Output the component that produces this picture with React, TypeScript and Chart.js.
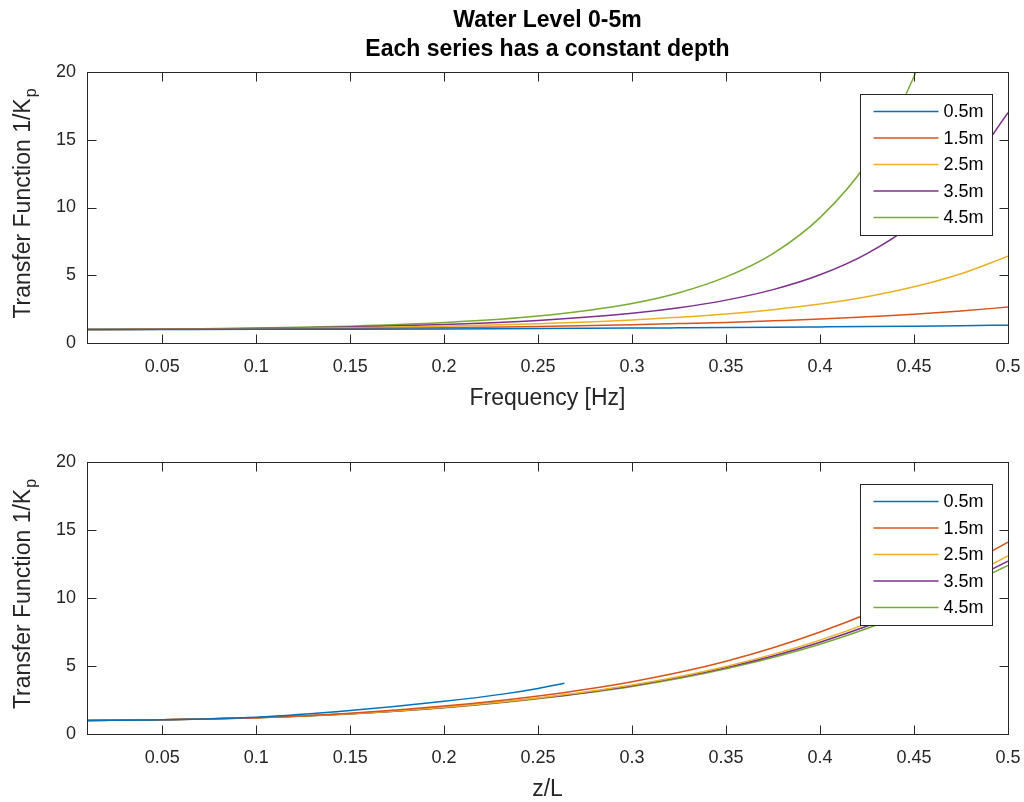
import React, { useEffect, useRef } from 'react';
import { Chart, registerables } from 'chart.js';

Chart.register(...registerables);

const FONT = "'Liberation Sans', Arial, Helvetica, sans-serif";
const AXIS_COLOR = '#262626';

const COLORS = ['#0072BD', '#D95319', '#EDB120', '#7E2F8E', '#77AC30'];
const depthLabels = ['0.5m', '1.5m', '2.5m', '3.5m', '4.5m'];

const xTickValues = [0.05, 0.1, 0.15, 0.2, 0.25, 0.3, 0.35, 0.4, 0.45, 0.5];
const xTickLabels = ['0.05', '0.1', '0.15', '0.2', '0.25', '0.3', '0.35', '0.4', '0.45', '0.5'];
const yTickValues = [0, 5, 10, 15, 20];
const yTickLabels = ['0', '5', '10', '15', '20'];

// Top panel: frequency [Hz] vs transfer function
const freq = [0.01, 0.05, 0.1, 0.15, 0.2, 0.25, 0.3, 0.325, 0.35, 0.375, 0.4, 0.425, 0.45, 0.475, 0.5];
const top05 = [1.0, 1.003, 1.01, 1.023, 1.042, 1.067, 1.098, 1.117, 1.137, 1.16, 1.186, 1.213, 1.243, 1.278, 1.316];
const top15 = [1.0, 1.008, 1.031, 1.072, 1.134, 1.222, 1.348, 1.43, 1.522, 1.64, 1.768, 1.94, 2.125, 2.37, 2.65];
const top25 = [1.0, 1.013, 1.053, 1.125, 1.24, 1.419, 1.697, 1.905, 2.14, 2.46, 2.871, 3.418, 4.144, 5.11, 6.41];
const top35 = [1.0, 1.018, 1.075, 1.183, 1.364, 1.669, 2.197, 2.604, 3.164, 3.94, 5.037, 6.6, 8.85, 12.17, 17.0];
const top45 = [1.0, 1.023, 1.098, 1.243, 1.506, 1.988, 2.921, 3.71, 4.877, 6.6, 9.25, 13.3, 19.67, 29.8, 46.2];

// Bottom panel: z/L vs transfer function
const zl05 = [0.01, 0.05, 0.1, 0.15, 0.2, 0.232, 0.25, 0.264];
const bot05 = [1.0, 1.04, 1.23, 1.72, 2.4, 2.95, 3.35, 3.73];
const zl = [0.01, 0.05, 0.1, 0.15, 0.2, 0.25, 0.3, 0.35, 0.4, 0.45, 0.5];
const bot15 = [1.0, 1.05, 1.2, 1.52, 2.05, 2.8, 3.85, 5.35, 7.5, 10.35, 14.1];
const bot25 = [1.0, 1.05, 1.2, 1.49, 1.97, 2.65, 3.6, 4.97, 6.9, 9.55, 13.1];
const bot35 = [1.0, 1.05, 1.2, 1.48, 1.95, 2.62, 3.55, 4.88, 6.75, 9.3, 12.7];
const bot45 = [1.0, 1.05, 1.19, 1.47, 1.93, 2.6, 3.5, 4.8, 6.6, 9.1, 12.4];

const toPoints = (xs: number[], ys: number[]) => xs.map((x, i) => ({ x, y: ys[i] }));

const makeDatasets = (series: { x: number[]; y: number[] }[]) =>
  series.map((s, i) => ({
    label: depthLabels[i],
    data: toPoints(s.x, s.y),
    borderColor: COLORS[i],
    backgroundColor: COLORS[i],
    borderWidth: 1.5,
    pointRadius: 0,
    fill: false,
    cubicInterpolationMode: 'monotone' as const,
  }));

const matlabPlugin = {
  id: 'matlab',
  afterDraw(chart: any, _args: any, o: any) {
    const ctx = chart.ctx as CanvasRenderingContext2D;
    const ca = chart.chartArea;
    const L = Math.round(ca.left) + 0.5;
    const R = Math.round(ca.right) + 0.5;
    const T = Math.round(ca.top) + 0.5;
    const B = Math.round(ca.bottom) + 0.5;
    const line = (x1: number, y1: number, x2: number, y2: number) => {
      ctx.beginPath();
      ctx.moveTo(x1, y1);
      ctx.lineTo(x2, y2);
      ctx.stroke();
    };
    ctx.save();

    // legend (inside, top-right, MATLAB style)
    const lw = 132;
    const lh = 141;
    const lx = Math.round(R - 17 - lw) + 0.5;
    const ly = Math.round(T + 21) + 0.5;
    ctx.fillStyle = '#ffffff';
    ctx.fillRect(lx, ly, lw, lh);
    ctx.strokeStyle = AXIS_COLOR;
    ctx.lineWidth = 1;
    ctx.strokeRect(lx, ly, lw, lh);
    ctx.font = `18px ${FONT}`;
    ctx.textAlign = 'left';
    ctx.textBaseline = 'middle';
    chart.data.datasets.forEach((ds: any, i: number) => {
      const y = ly + 17 + i * 26.5;
      ctx.strokeStyle = ds.borderColor;
      ctx.lineWidth = 1.5;
      line(lx + 13, y, lx + 78, y);
      ctx.fillStyle = '#000000';
      ctx.fillText(ds.label, lx + 83, y + 1);
    });

    // axes box
    ctx.strokeStyle = AXIS_COLOR;
    ctx.lineWidth = 1;
    ctx.strokeRect(L, T, R - L, B - T);

    // inward ticks on all four sides
    const tl = 9;
    const xs = chart.scales.x;
    const ys = chart.scales.y;
    xs.ticks.forEach((t: any) => {
      const px = Math.round(xs.getPixelForValue(t.value)) + 0.5;
      line(px, B, px, B - tl);
      line(px, T, px, T + tl);
    });
    ys.ticks.forEach((t: any) => {
      const py = Math.round(ys.getPixelForValue(t.value)) + 0.5;
      line(L, py, L + tl, py);
      line(R, py, R - tl, py);
    });

    // x axis title
    ctx.fillStyle = AXIS_COLOR;
    ctx.font = `23px ${FONT}`;
    ctx.textAlign = 'center';
    ctx.textBaseline = 'middle';
    ctx.fillText(o.xTitle, (ca.left + ca.right) / 2, o.xTitleY);

    // y axis title with subscript
    const main = o.yTitle;
    const sub = o.ySub;
    ctx.font = `23px ${FONT}`;
    const w1 = ctx.measureText(main).width;
    ctx.font = `16px ${FONT}`;
    const w2 = ctx.measureText(sub).width;
    const total = w1 + w2 + 1;
    ctx.translate(o.yTitleX, (ca.top + ca.bottom) / 2 - 4);
    ctx.rotate(-Math.PI / 2);
    ctx.textAlign = 'left';
    ctx.font = `23px ${FONT}`;
    ctx.fillText(main, -total / 2, 0);
    ctx.font = `16px ${FONT}`;
    ctx.fillText(sub, -total / 2 + w1 + 1, 8);
    ctx.setTransform(1, 0, 0, 1, 0, 0);

    // figure title
    if (o.titleLines) {
      ctx.fillStyle = '#000000';
      ctx.font = `bold 23px ${FONT}`;
      ctx.textAlign = 'center';
      ctx.textBaseline = 'middle';
      o.titleLines.forEach((t: string, i: number) => {
        ctx.fillText(t, (ca.left + ca.right) / 2, o.titleY[i]);
      });
    }
    ctx.restore();
  },
};

function makeConfig(datasets: any[], padding: any, plug: any) {
  return {
    type: 'line' as const,
    data: { datasets },
    plugins: [matlabPlugin],
    options: {
      responsive: false,
      animation: false as const,
      devicePixelRatio: 1,
      layout: { padding },
      plugins: {
        legend: { display: false },
        title: { display: false },
        tooltip: { enabled: false },
        matlab: plug,
      },
      scales: {
        x: {
          type: 'linear' as const,
          min: 0.01,
          max: 0.5,
          grid: { display: false, drawTicks: false },
          border: { display: false },
          afterBuildTicks: (scale: any) => {
            scale.ticks = xTickValues.map((v) => ({ value: v }));
          },
          afterFit: (scale: any) => {
            scale.height = 40;
            scale.paddingLeft = 0;
            scale.paddingRight = 0;
          },
          ticks: {
            autoSkip: false,
            maxRotation: 0,
            padding: 13,
            color: AXIS_COLOR,
            font: { family: FONT, size: 18 },
            callback: (v: any) => {
              const i = xTickValues.findIndex((t) => Math.abs(t - v) < 1e-9);
              return i >= 0 ? xTickLabels[i] : '';
            },
          },
        },
        y: {
          type: 'linear' as const,
          min: 0,
          max: 20,
          grid: { display: false, drawTicks: false },
          border: { display: false },
          afterBuildTicks: (scale: any) => {
            scale.ticks = yTickValues.map((v) => ({ value: v }));
          },
          afterFit: (scale: any) => {
            scale.width = 30;
            scale.paddingTop = 0;
            scale.paddingBottom = 0;
          },
          ticks: {
            autoSkip: false,
            padding: 11,
            color: AXIS_COLOR,
            font: { family: FONT, size: 18 },
            callback: (v: any) => {
              const i = yTickValues.indexOf(v);
              return i >= 0 ? yTickLabels[i] : '';
            },
          },
        },
      },
    },
  };
}

export default function App() {
  const topRef = useRef<HTMLCanvasElement>(null);
  const botRef = useRef<HTMLCanvasElement>(null);

  useEffect(() => {
    const topSets = makeDatasets([
      { x: freq, y: top05 },
      { x: freq, y: top15 },
      { x: freq, y: top25 },
      { x: freq, y: top35 },
      { x: freq, y: top45 },
    ]);
    const botSets = makeDatasets([
      { x: zl05, y: bot05 },
      { x: zl, y: bot15 },
      { x: zl, y: bot25 },
      { x: zl, y: bot35 },
      { x: zl, y: bot45 },
    ]);
    const c1 = new Chart(
      topRef.current!,
      makeConfig(
        topSets,
        { left: 57, right: 16, top: 72, bottom: 37 },
        {
          xTitle: 'Frequency [Hz]',
          xTitleY: 399,
          yTitle: 'Transfer Function 1/K',
          ySub: 'p',
          yTitleX: 24,
          titleLines: ['Water Level 0-5m', 'Each series has a constant depth'],
          titleY: [21, 50],
        }
      ) as any
    );
    const c2 = new Chart(
      botRef.current!,
      makeConfig(
        botSets,
        { left: 57, right: 16, top: 42, bottom: 28 },
        {
          xTitle: 'z/L',
          xTitleY: 370,
          yTitle: 'Transfer Function 1/K',
          ySub: 'p',
          yTitleX: 24,
        }
      ) as any
    );
    return () => {
      c1.destroy();
      c2.destroy();
    };
  }, []);

  return (
    <div style={{ position: 'fixed', left: 0, top: 0, width: 1024, height: 802, background: '#ffffff' }}>
      <canvas ref={topRef} width={1024} height={420} style={{ position: 'absolute', left: 0, top: 0, display: 'block' }} />
      <canvas ref={botRef} width={1024} height={382} style={{ position: 'absolute', left: 0, top: 420, display: 'block' }} />
    </div>
  );
}
